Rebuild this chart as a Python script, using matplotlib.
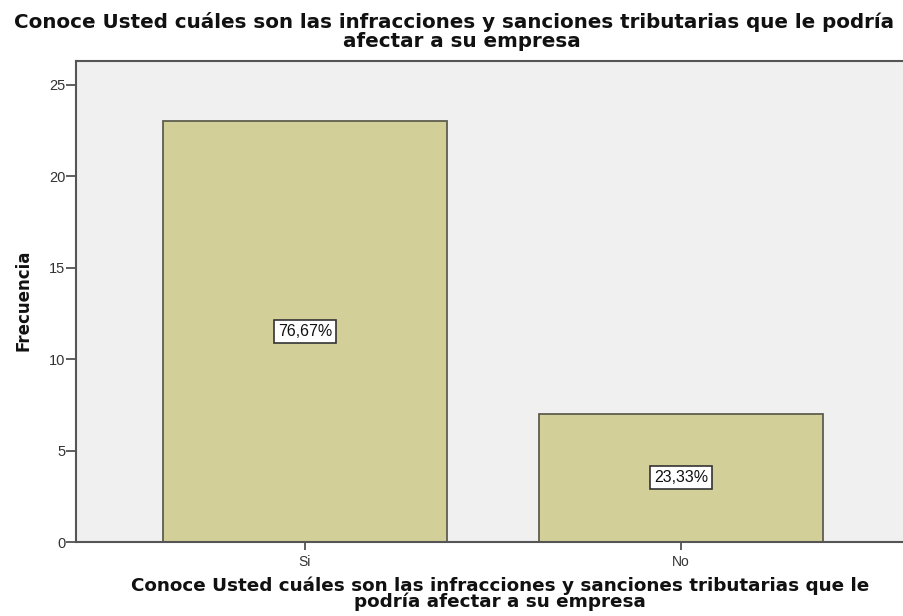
import matplotlib
matplotlib.use("Agg")
import matplotlib.pyplot as plt

categories = ["Si", "No"]
frecuencia = [23, 7]
porcentajes = ["76,67%", "23,33%"]
yticks = [0, 5, 10, 15, 20, 25]
titulo = ["Conoce Usted cuáles son las infracciones y sanciones tributarias que le podría",
          "afectar a su empresa"]
etiqueta_x = ["Conoce Usted cuáles son las infracciones y sanciones tributarias que le",
              "podría afectar a su empresa"]

plt.rcParams['font.family'] = ['Liberation Sans', 'DejaVu Sans']

W, H = 904, 616
fig = plt.figure(figsize=(W / 100, H / 100), dpi=100)
ax = fig.add_axes([76 / W, 74 / H, 828 / W, 481 / H])
ax.set_facecolor("#F0F0F0")

x = list(range(len(categories)))
ax.bar(x, frecuencia, width=0.753, color="#D3CF98", edgecolor="#5E5E50", linewidth=1.3, zorder=2)
for xi, v, lab in zip(x, frecuencia, porcentajes):
    ax.text(xi, v / 2, lab, ha="center", va="center", fontsize=11.5, color="#111111",
            bbox=dict(boxstyle="square,pad=0.25", facecolor="white", edgecolor="#333333", linewidth=1.2), zorder=3)

ax.set_xlim(-0.609, 1.593)
ax.set_ylim(0, 26.3)
ax.set_yticks(yticks)
ax.set_xticks(x)
ax.set_xticklabels(categories)
ax.tick_params(axis="y", direction="out", length=7, width=1.2, color="#444444", labelsize=10.5, labelcolor="#333333", pad=0.5)
ax.tick_params(axis="x", direction="out", length=6, width=1.2, color="#444444", labelsize=10, labelcolor="#333333", pad=3)
for s in ax.spines.values():
    s.set_color("#555555")
    s.set_linewidth(1.5)
ax.spines["right"].set_visible(False)

bold = dict(fontweight="bold", family=["DejaVu Sans"], color="#111111")
fig.text(454 / W, 1 - 28 / H, titulo[0], ha="center", va="baseline", fontsize=14.3, **bold)
fig.text(462 / W, 1 - 47 / H, titulo[1], ha="center", va="baseline", fontsize=14.3, **bold)
fig.text(500 / W, 1 - 594 / H, "\n".join(etiqueta_x), ha="center", va="center", multialignment="center",
         fontsize=13.2, linespacing=0.8, **bold)
fig.text(24 / W, 1 - 300 / H, "Frecuencia", rotation=90, ha="center", va="center", fontsize=12, **bold)

fig.savefig("out.png", dpi=100)
